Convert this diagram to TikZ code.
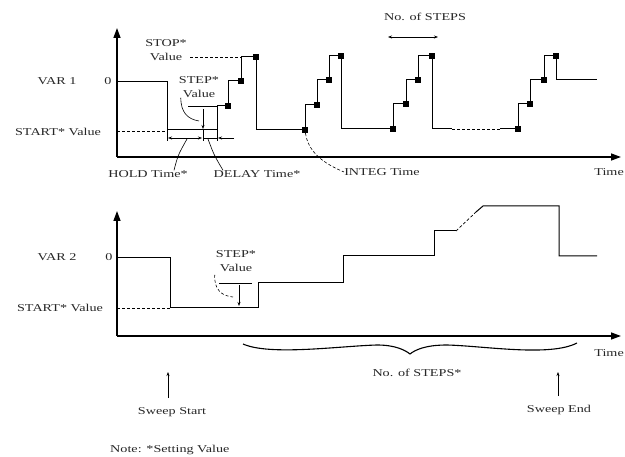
\documentclass[tikz,border=0pt]{standalone}
\usepackage{fontspec}
\setmainfont{Liberation Serif}[FakeStretch=1.35]
\usetikzlibrary{arrows.meta}
\begin{document}
\begin{tikzpicture}[x=1pt,y=-1pt,
  sig/.style={line width=1pt,line join=miter},
  axisline/.style={line width=1.4pt,-{Triangle[length=10pt,width=7pt]}},
  lbl/.style={font=\fontsize{10.5}{14}\selectfont,inner sep=0pt,text=black!85,align=center},
  sq/.style={fill=black,rectangle,minimum size=6pt,inner sep=0pt,draw=none},
  dsh/.style={line width=0.7pt,dash pattern=on 3pt off 2pt},
  thin/.style={line width=0.6pt},
  smallarrow/.style={thin,-{Stealth[length=4pt,width=3pt]}},
]
\useasboundingbox (0,0) rectangle (625,457);

% ---------------- top graph ----------------
\coordinate (o1) at (117,157);
\coordinate (y1) at (117,28);
\coordinate (x1) at (621,157);
\draw[axisline] (o1) -- (y1);
\draw[axisline] (o1) -- (x1);

\node[lbl] (var1) at (57,81) {VAR 1};
\node[lbl] (zero1) at (108,81) {0};
\node[lbl] (start1) at (58,132) {START* Value};
\node[lbl] (stop1) at (166,50) {STOP*\\Value};
\node[lbl] (step1) at (199,87) {STEP*\\Value};
\node[lbl] (hold) at (148,174) {HOLD Time*};
\node[lbl] (delay) at (257,174) {DELAY Time*};
\node[lbl] (integ) at (382,172) {INTEG Time};
\node[lbl,anchor=east] (time1) at (624,172) {Time};
\node[lbl] (nsteps1) at (425,17) {No. of STEPS};

% signal
\draw[sig] (117,82) -- (167,82) -- (167,130) -- (217,130) -- (217,106) -- (228,106)
  -- (228,81) -- (241,81) -- (241,57) -- (256,57) -- (256,130) -- (305,130)
  -- (305,105) -- (317,105) -- (317,80) -- (329,80) -- (329,56) -- (341,56)
  -- (341,129) -- (393,129) -- (393,104) -- (406,104) -- (406,80) -- (418,80)
  -- (418,56) -- (432,56) -- (432,129) -- (452,129);
\draw[dsh] (452,129) -- (500,129);
\draw[sig] (500,129) -- (518,129) -- (518,104) -- (530,104) -- (530,80) -- (544,80)
  -- (544,56) -- (556,56) -- (556,80) -- (597,80);

% sample squares
\foreach \i/\p in {a/{228,106},b/{241,81},c/{256,57},d/{305,130},e/{317,105},f/{329,80},
  g/{341,56},h/{393,129},k/{406,104},l/{418,80},m/{432,56},n/{518,129},p/{530,104},
  q/{544,80},r/{556,56}}
  \node[sq] (s\i) at (\p) {};

% reference dashed lines
\coordinate (st1a) at (117,131);
\coordinate (st1b) at (167,131);
\draw[dsh] (st1a) -- (st1b);
\coordinate (sp1a) at (190,57);
\coordinate (sp1b) at (241,57);
\draw[dsh] (sp1a) -- (sp1b);

% step value marks
\coordinate (stepref) at (188,106);
\coordinate (steprise) at (217,106);
\draw[thin] (stepref) -- (steprise);
\draw[thin] (217,130) -- (217,141);
\draw[thin] (167,130) -- (167,141);
\draw[smallarrow] (203,109) -- (203,129);
\draw[thin] (203,130) -- (203,141);

% time dimensions
\draw[thin,{Stealth[length=4pt,width=3pt]}-{Stealth[length=4pt,width=3pt]}] (168,138) -- (202,138);
\draw[thin] (203,138) -- (217,138);
\draw[smallarrow] (234,138) -- (218,138);

% leaders
\draw[thin] (step1.south west) ++(2,0) .. controls (181,112) and (187,119) .. (199,121);
\draw[thin] (hold.north) ++(26,0) .. controls (178,155) .. (187,139);
\draw[thin] (delay.north) ++(-34,0) .. controls (214,155) .. (208,139);
\draw[dsh,line width=0.6pt] (sd) .. controls (308,150) and (320,162) .. (integ.west);
\draw[thin,{Stealth[length=4pt,width=3pt]}-{Stealth[length=4pt,width=3pt]}] (388,37) -- (438,37);

% ---------------- bottom graph ----------------
\coordinate (o2) at (117,336);
\coordinate (y2) at (117,211);
\coordinate (x2) at (621,336);
\draw[axisline] (o2) -- (y2);
\draw[axisline] (o2) -- (x2);

\node[lbl] (var2) at (57,257) {VAR 2};
\node[lbl] (zero2) at (109,257) {0};
\node[lbl] (start2) at (60,308) {START* Value};
\node[lbl] (step2) at (236,261) {STEP*\\Value};
\node[lbl,anchor=east] (time2) at (624,353) {Time};
\node[lbl] (nsteps2) at (417,373) {No. of STEPS*};
\node[lbl] (sweeps) at (172,412) {Sweep Start};
\node[lbl] (sweepe) at (559,410) {Sweep End};
\node[lbl,anchor=west] (note) at (110,450) {Note: *Setting Value};

\draw[sig] (117,258) -- (170,258) -- (170,308) -- (258,308) -- (258,283) -- (343,283)
  -- (343,256) -- (434,256) -- (434,231) -- (456,231);
\draw[dsh] (456,231) -- (476,212);
\draw[sig] (476,212) -- (483,206) -- (559,206) -- (559,256) -- (597,256);

\coordinate (st2a) at (117,308);
\coordinate (st2b) at (170,308);
\draw[dsh] (st2a) -- (st2b);
\coordinate (sr2a) at (219,283);
\coordinate (sr2b) at (252,283);
\draw[thin] (sr2a) -- (sr2b);
\draw[smallarrow] (239,285) -- (239,306);
\draw[dsh,line width=0.6pt] (step2.south west) ++(-1,3) .. controls (214,290) and (222,296) .. (233,297);

% brace
\draw[line width=1.1pt] (243,344) .. controls (270,356) and (340,346) .. (377,345)
  .. controls (395,345) and (405,350) .. (410,354)
  .. controls (415,350) and (425,345) .. (447,345)
  .. controls (485,346) and (550,357) .. (577,343);

% sweep arrows
\draw[smallarrow] (sweeps.north) ++(-4,-9) -- (168,372);
\draw[smallarrow] (sweepe.north) ++(-1,-9) -- (558,372);
\end{tikzpicture}
\end{document}
